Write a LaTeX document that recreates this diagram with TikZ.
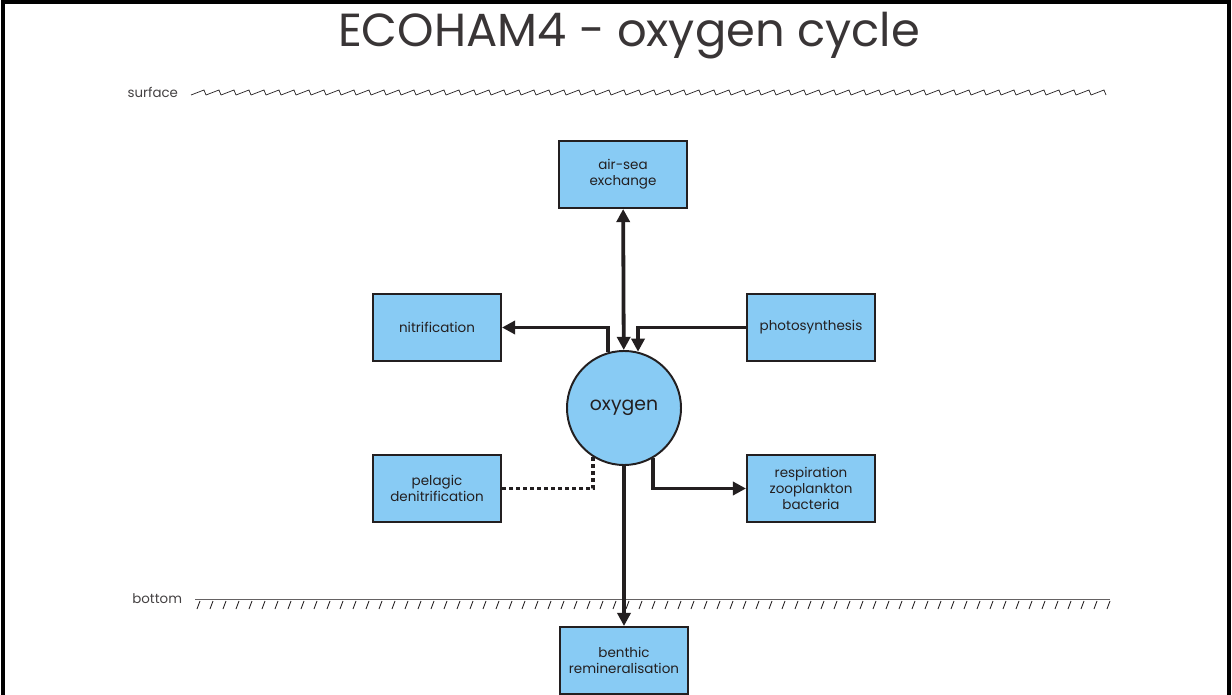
\documentclass[tikz,border=0pt]{standalone}
\usepackage{fontspec}
\setmainfont{Poppins}
\usetikzlibrary{arrows.meta, positioning}

\definecolor{boxblue}{RGB}{136,203,244}
\definecolor{ink}{RGB}{35,31,32}

\tikzset{
  process/.style={draw=ink, line width=1.4pt, fill=boxblue, minimum width=3.2cm,
    minimum height=1.675cm, align=center, text=ink, font=\fontsize{9.6}{11.5}\selectfont},
  pool/.style={circle, draw=ink, line width=1.4pt, fill=boxblue, minimum size=2.85cm,
    text=ink, font=\fontsize{13.4}{15}\selectfont},
  flow/.style={draw=ink, line width=2.7pt, -{Triangle[length=0.33cm, width=0.33cm]}},
  level/.style={text=ink!85, font=\fontsize{9.5}{11}\selectfont}
}

\begin{document}
\begin{tikzpicture}[x=0.025cm, y=-0.025cm]
  \useasboundingbox (0,0) rectangle (1232,695);
  \draw[line width=2.2pt] (3,695) -- (3,2) -- (1229,2) -- (1229,695);

  \node[text=ink!90, font=\fontsize{33}{36}\selectfont] (title) at (629,36) {ECOHAM4 - oxygen cycle};

  % surface and bottom
  \node[level, anchor=east] (surf) at (183,92) {surface};
  \node[level, anchor=east] (bott) at (187,599) {bottom};
  \foreach \i in {0,...,60}
    \draw[line width=0.5pt, ink] ({191+15*\i},95) -- ({204+15*\i},90) -- ({206+15*\i},95);
  \draw[line width=0.4pt, ink!70] (195,599) -- (1110,599);
  \foreach \i in {0,...,70}
    \draw[line width=0.6pt, ink] ({197+13*\i},609) -- ({200+13*\i},601);

  \node[pool] (oxy) at (624,408) {oxygen};
  \node[process] (airsea) at (623,174.5) {air-sea\\exchange};
  \node[process] (nitri) at (437,327.5) {nitrification};
  \node[process] (photo) at (811,327.5) {photosynthesis};
  \node[process] (pelag) at (437,488.5) {pelagic\\denitrification};
  \node[process] (resp) at (811,488.5) {respiration\\zooplankton\\bacteria};
  \node[process] (benth) at (624,660.5) {benthic\\remineralisation};

  \draw[flow, {Triangle[length=0.33cm, width=0.33cm]}-{Triangle[length=0.33cm, width=0.33cm]}] (airsea) -- (oxy);
  \draw[flow] (oxy.106) |- (nitri.east);
  \draw[flow] (photo.west) -| (oxy.76);
  \draw[draw=ink, line width=2.7pt, dash pattern=on 0.1cm off 0.075cm] (oxy.238) |- (pelag.east);
  \draw[flow] (oxy.300) |- (resp.west);
  \draw[flow] (oxy) -- (benth);
\end{tikzpicture}
\end{document}
